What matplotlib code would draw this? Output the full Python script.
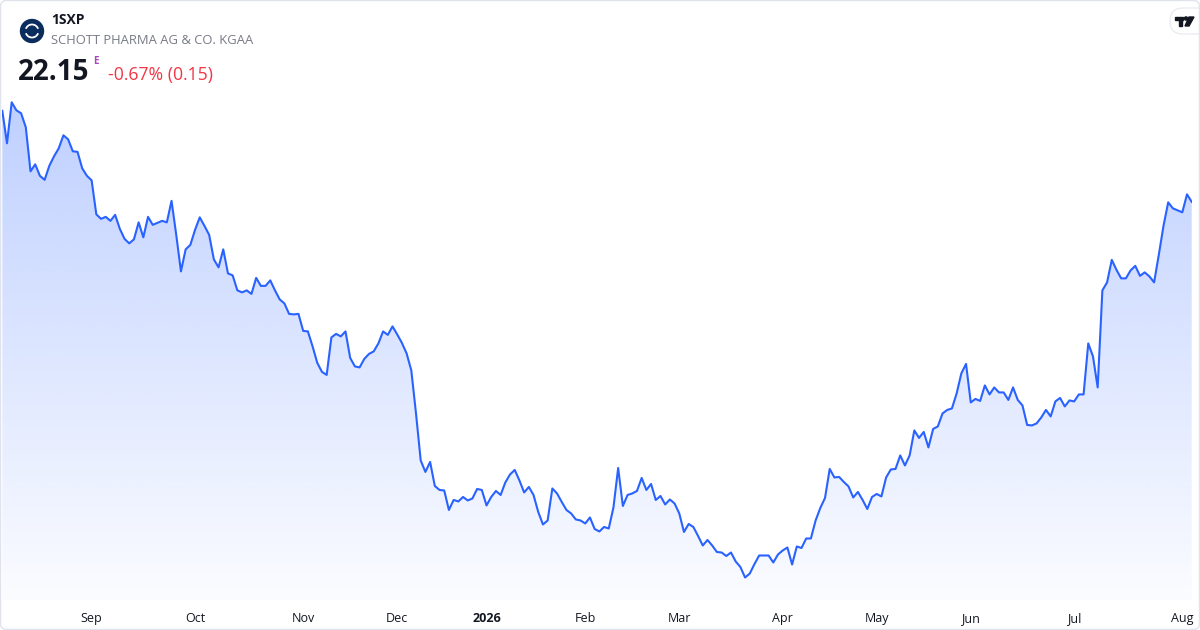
import numpy as np
import matplotlib
matplotlib.use("Agg")
import matplotlib.pyplot as plt
import matplotlib.patches as mpatches
from matplotlib.colors import LinearSegmentedColormap
from matplotlib.transforms import IdentityTransform

# daily closes, Aug 2025 -> Aug 2026 (one value per trading day)
prices = [
    23.97, 23.32, 24.14, 23.98, 23.92, 23.64, 22.76, 22.90, 22.67, 22.59,
    22.87, 23.06, 23.22, 23.48, 23.40, 23.16, 23.15, 22.82, 22.67, 22.58,
    21.90, 21.81, 21.85, 21.77, 21.89, 21.61, 21.41, 21.32, 21.40, 21.74,
    21.44, 21.85, 21.69, 21.73, 21.77, 21.74, 22.17, 21.49, 20.76, 21.20,
    21.29, 21.59, 21.84, 21.67, 21.49, 21.00, 20.84, 21.20, 20.72, 20.68,
    20.38, 20.34, 20.38, 20.31, 20.63, 20.47, 20.47, 20.58, 20.38, 20.20,
    20.12, 19.91, 19.90, 19.91, 19.57, 19.56, 19.26, 18.93, 18.75, 18.69,
    19.44, 19.51, 19.46, 19.56, 19.03, 18.86, 18.84, 19.01, 19.11, 19.16,
    19.32, 19.56, 19.49, 19.66, 19.50, 19.33, 19.12, 18.78, 17.92, 16.98,
    16.75, 16.95, 16.47, 16.39, 16.38, 15.99, 16.19, 16.16, 16.25, 16.18,
    16.22, 16.41, 16.39, 16.08, 16.25, 16.37, 16.29, 16.54, 16.70, 16.79,
    16.58, 16.34, 16.45, 16.29, 15.95, 15.70, 15.78, 16.42, 16.32, 16.15,
    15.99, 15.92, 15.80, 15.78, 15.72, 15.84, 15.61, 15.56, 15.65, 15.62,
    16.04, 16.83, 16.07, 16.29, 16.32, 16.37, 16.63, 16.39, 16.51, 16.19,
    16.27, 16.10, 16.20, 16.12, 15.92, 15.55, 15.71, 15.65, 15.47, 15.28,
    15.39, 15.28, 15.15, 15.14, 15.07, 15.14, 14.96, 14.85, 14.64, 14.72,
    14.91, 15.08, 15.08, 15.08, 14.94, 15.10, 15.18, 15.24, 14.90, 15.26,
    15.23, 15.42, 15.42, 15.78, 16.03, 16.23, 16.81, 16.64, 16.65, 16.55,
    16.46, 16.24, 16.35, 16.19, 16.01, 16.25, 16.31, 16.26, 16.64, 16.80,
    16.81, 17.08, 16.88, 17.08, 17.58, 17.43, 17.55, 17.24, 17.61, 17.66,
    17.92, 17.99, 18.02, 18.32, 18.72, 18.91, 18.14, 18.21, 18.17, 18.48,
    18.30, 18.44, 18.34, 18.34, 18.19, 18.44, 18.19, 18.08, 17.69, 17.68,
    17.72, 17.84, 17.99, 17.86, 18.16, 18.23, 18.06, 18.18, 18.16, 18.30,
    18.30, 19.32, 19.06, 18.44, 20.38, 20.54, 20.99, 20.79, 20.62, 20.62,
    20.78, 20.87, 20.67, 20.74, 20.66, 20.54, 21.09, 21.67, 22.14, 22.02,
    21.98, 21.94, 22.30, 22.15,
]

# first trading day of each month (bar index) and its label
tick_idx = [19, 41, 64, 84, 103, 124, 144, 166, 186, 206, 228, 251]
tick_labels = ["Sep", "Oct", "Nov", "Dec", "2026", "Feb", "Mar", "Apr",
               "May", "Jun", "Jul", "Aug"]

symbol = "1SXP"
company = "SCHOTT PHARMA AG & CO. KGAA"
last_price = "22.15"
change_txt = "-0.67% (0.15)"

plt.rcParams["font.family"] = ["Open Sans", "DejaVu Sans"]

W, H = 1200, 630
LINE = "#2962ff"

fig = plt.figure(figsize=(W / 100, H / 100), dpi=100)
fig.patch.set_facecolor("white")

x = np.arange(len(prices))
y = np.array(prices)

ax = fig.add_axes([2.3 / W, 30 / H, (1191.7 - 2.3) / W, 600 / H])
ax.set_facecolor("none")

rng = y.max() - y.min()
ylo = y.min() - rng * 22.5 / 475.2
yhi = y.max() + rng * 102.3 / 475.2

# gradient area under the line
poly = ax.fill_between(x, y, ylo, color="none", lw=0)
cmap = LinearSegmentedColormap.from_list(
    "area", [(41 / 255, 98 / 255, 1, 0.02), (41 / 255, 98 / 255, 1, 0.30)])
grad = np.linspace(0, 1, 256).reshape(-1, 1)
img = ax.imshow(grad, cmap=cmap, aspect="auto", origin="lower",
                extent=[0, len(prices) - 1, ylo, y.max()], zorder=1)
img.set_clip_path(poly.get_paths()[0], transform=ax.transData)

ax.plot(x, y, color=LINE, lw=1.5, zorder=3, solid_joinstyle="round")

ax.set_xlim(0, len(prices) - 1)
ax.set_ylim(ylo, yhi)
ax.set_yticks([])
ax.set_xticks(tick_idx)
ax.set_xticklabels(tick_labels)
ax.tick_params(axis="x", length=0, pad=8.5, labelsize=9, labelcolor="#131722")
for lab in ax.get_xticklabels():
    if lab.get_text() == "2026":
        lab.set_fontweight("bold")
for s in ax.spines.values():
    s.set_visible(False)


def fx(px):
    return px / W


def fy(py):
    return 1 - py / H


# header
ident = IdentityTransform()
fig.add_artist(mpatches.Circle((32, H - 31), 11.5, color="#0b2d5e", transform=ident))
fig.add_artist(mpatches.Arc((32, H - 31), 13, 13, theta1=20, theta2=160,
                            color="white", lw=1.3, transform=ident))
fig.add_artist(mpatches.Arc((32, H - 31), 13, 13, theta1=200, theta2=340,
                            color="white", lw=1.3, transform=ident))

fig.text(fx(51), fy(20), symbol, fontsize=10, fontweight="bold",
         color="#131722", va="center", ha="left")
fig.text(fx(51), fy(41), company, fontsize=9.35, color="#787b86",
         va="center", ha="left")
fig.text(fx(18), fy(72), last_price, fontsize=20, fontweight="bold",
         color="#131722", va="center", ha="left")
fig.text(fx(93), fy(61), "E", fontsize=7, fontweight="bold",
         color="#ab47bc", va="center", ha="left")
fig.text(fx(108), fy(75), change_txt, fontsize=12.7, color="#f23645",
         va="center", ha="left")

# tradingview badge top right
fig.add_artist(mpatches.FancyBboxPatch(
    (1170, H - 34), 40, 26, boxstyle="round,pad=0,rounding_size=13",
    facecolor="white", edgecolor="#e6e8ee", lw=0.8, transform=ident))
fig.add_artist(mpatches.Rectangle((1175, H - 20), 8, 3, color="#131722", transform=ident))
fig.add_artist(mpatches.Rectangle((1179, H - 26), 3, 8, color="#131722", transform=ident))
fig.add_artist(mpatches.Circle((1186, H - 18.5), 1.6, color="#131722", transform=ident))
fig.add_artist(mpatches.Polygon([(1189, H - 17), (1194, H - 17), (1189, H - 26),
                                 (1185, H - 26)], color="#131722", transform=ident))

# outer frame
fig.add_artist(mpatches.FancyBboxPatch(
    (0.5, 0.5), W - 1, H - 1, boxstyle="round,pad=0,rounding_size=6",
    facecolor="none", edgecolor="#e0e3eb", lw=1, transform=ident))

fig.savefig("out.png", dpi=100, facecolor="white")
